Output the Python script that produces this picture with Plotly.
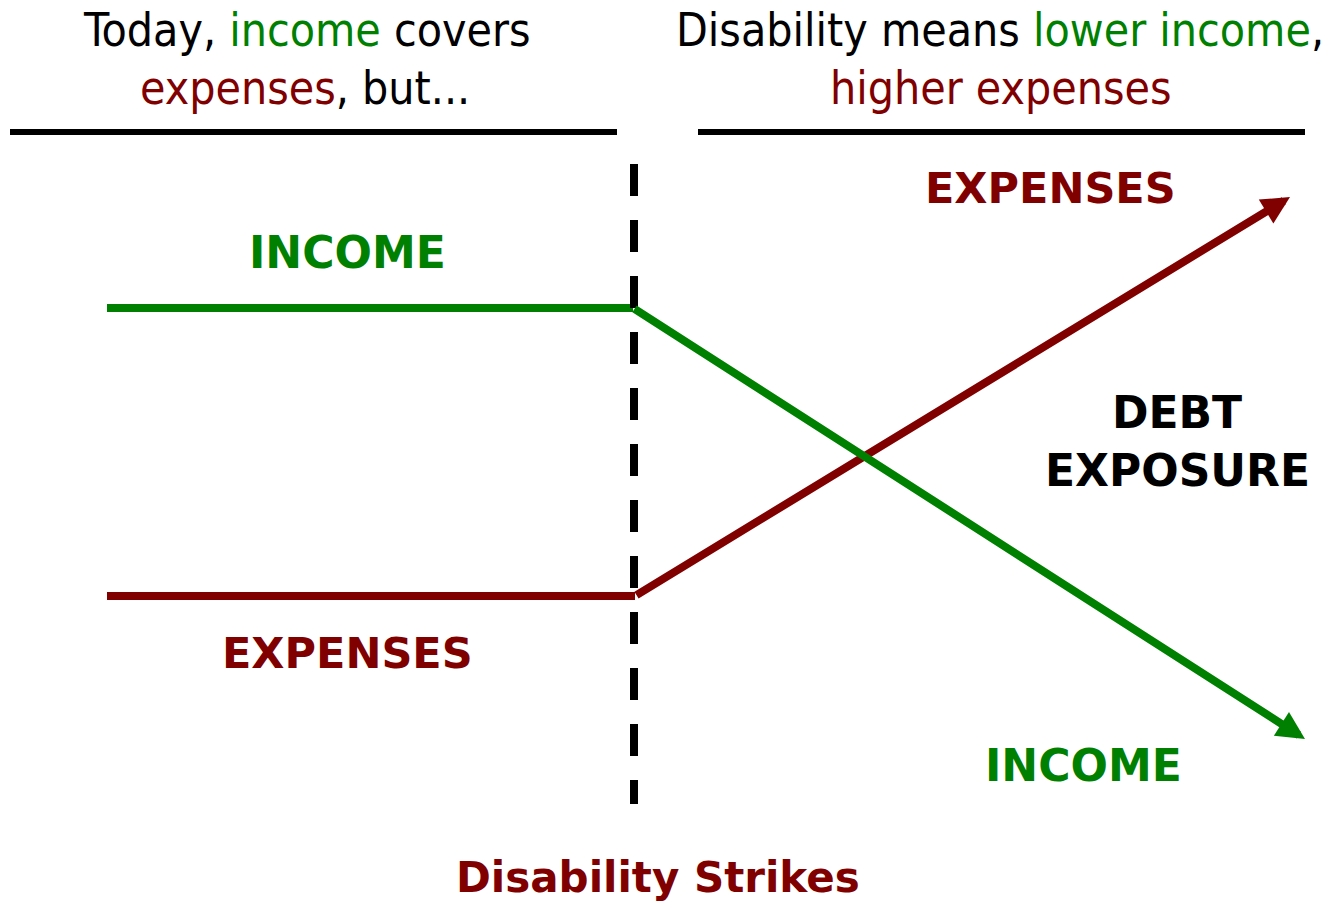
import plotly.graph_objects as go

GREEN = "#008000"
RED = "#800000"

# Line data (diagram units ~ pixels; y grows downward)
income_x = [107, 633, 1305]
income_y = [308, 308, 739]
expenses_x = [107, 635, 1290]
expenses_y = [596, 596, 197]
strike_x = 634
strike_y = [164, 804]

fig = go.Figure()

# before-disability flat segments
fig.add_trace(go.Scatter(x=income_x[:2], y=income_y[:2], mode="lines",
                         line=dict(color=GREEN, width=8), hoverinfo="skip"))
fig.add_trace(go.Scatter(x=expenses_x[:2], y=expenses_y[:2], mode="lines",
                         line=dict(color=RED, width=8), hoverinfo="skip"))
# dashed divider
fig.add_trace(go.Scatter(x=[strike_x, strike_x], y=strike_y, mode="lines",
                         line=dict(color="black", width=8, dash="32px,24px"), hoverinfo="skip"))
# header rules
fig.add_trace(go.Scatter(x=[10, 617], y=[132, 132], mode="lines",
                         line=dict(color="black", width=6), hoverinfo="skip"))
fig.add_trace(go.Scatter(x=[698, 1305], y=[132, 132], mode="lines",
                         line=dict(color="black", width=6), hoverinfo="skip"))

annotations = []
# after-disability arrows
annotations.append(dict(x=expenses_x[2], y=expenses_y[2], ax=expenses_x[1], ay=expenses_y[1],
                        xref="x", yref="y", axref="x", ayref="y", showarrow=True,
                        arrowhead=2, arrowwidth=8, arrowsize=0.7, arrowcolor=RED, text=""))
annotations.append(dict(x=income_x[2], y=income_y[2], ax=income_x[1], ay=income_y[1],
                        xref="x", yref="y", axref="x", ayref="y", showarrow=True,
                        arrowhead=2, arrowwidth=8, arrowsize=0.7, arrowcolor=GREEN, text=""))

HEAD_FONT = "DejaVu Sans Condensed, Liberation Sans Narrow, sans-serif"
BOLD_FONT = "DejaVu Sans, Verdana, sans-serif"

def txt(x, y, text, size, color, family, bold=False):
    t = f"<b>{text}</b>" if bold else text
    annotations.append(dict(x=x, y=y, xref="x", yref="y", text=t, showarrow=False,
                            font=dict(size=size, color=color, family=family),
                            xanchor="center", yanchor="middle", align="center"))

txt(307, 30, f"Today, <span style='color:{GREEN}'>income</span> covers", 46, "black", HEAD_FONT)
txt(305, 88, f"<span style='color:{RED}'>expenses</span>, but...", 46, "black", HEAD_FONT)
txt(1000, 30, f"Disability means <span style='color:{GREEN}'>lower income</span>,", 46, "black", HEAD_FONT)
txt(1001, 88, "higher expenses", 46, RED, HEAD_FONT)

txt(347, 252, "INCOME", 44, GREEN, BOLD_FONT, True)
txt(347, 653, "EXPENSES", 43, RED, BOLD_FONT, True)
txt(1050, 188, "EXPENSES", 43, RED, BOLD_FONT, True)
txt(1083, 765, "INCOME", 44, GREEN, BOLD_FONT, True)
txt(1177, 412, "DEBT", 44, "black", BOLD_FONT, True)
txt(1177, 470, "EXPOSURE", 44, "black", BOLD_FONT, True)
txt(658, 877, "Disability Strikes", 42, RED, BOLD_FONT, True)

fig.update_layout(
    width=1333, height=904,
    margin=dict(l=0, r=0, t=0, b=0),
    paper_bgcolor="white", plot_bgcolor="white",
    showlegend=False,
    xaxis=dict(range=[0, 1333], visible=False, fixedrange=True),
    yaxis=dict(range=[904, 0], visible=False, fixedrange=True),
    annotations=annotations,
)

fig.write_html("out.html", config={"displayModeBar": False},
               post_script="document.body.style.margin='0';document.body.style.overflow='hidden';")
